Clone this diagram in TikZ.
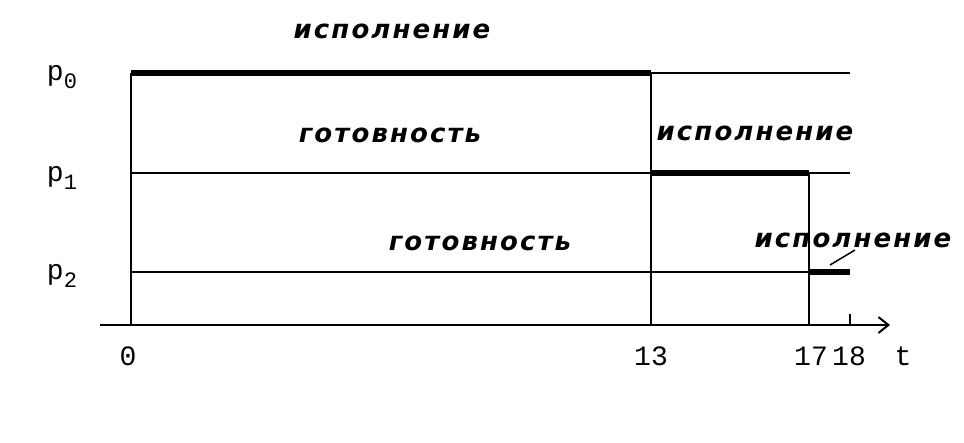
\documentclass[tikz,border=0pt]{standalone}
\usepackage{fontspec}
\newfontfamily\stfont{DejaVu Sans}[LetterSpace=8]
\newfontfamily\lbfont{Liberation Mono}
\usetikzlibrary{arrows.meta}
\begin{document}
\begin{tikzpicture}[x=1pt,y=-1pt,
  thinln/.style={line width=2pt},
  thickln/.style={line width=6pt},
  state/.style={font=\stfont\bfseries\itshape\fontsize{26}{26}\selectfont, inner sep=0pt},
  plab/.style={font=\lbfont\fontsize{28}{28}\selectfont, inner sep=0pt},
  tlab/.style={font=\lbfont\fontsize{28}{28}\selectfont, inner sep=0pt}]
\useasboundingbox[fill=white] (0,0) rectangle (964,442);
% coordinates
\coordinate (a0) at (131,73);
\coordinate (a13) at (651,73);
\coordinate (e0) at (850,73);
\coordinate (b0) at (131,173);
\coordinate (b13) at (651,173);
\coordinate (b17) at (809,173);
\coordinate (e1) at (850,173);
\coordinate (c0) at (131,272);
\coordinate (c17) at (809,272);
\coordinate (e2) at (850,272);
\coordinate (ax0) at (100,325);
\coordinate (axE) at (890,325);
\coordinate (t0) at (131,325);
\coordinate (t13) at (651,325);
\coordinate (t17) at (809,325);
\coordinate (t18) at (850,325);
\coordinate (t18u) at (850,314);
% lines
\draw[thickln] (a0) -- (a13);
\draw[thinln] (a13) -- (e0);
\draw[thinln] (b0) -- (b13);
\draw[thickln] (b13) -- (b17);
\draw[thinln] (b17) -- (e1);
\draw[thinln] (c0) -- (c17);
\draw[thickln] (c17) -- (e2);
\draw[thinln] (a0) -- (t0);
\draw[thinln] (a13) -- (t13);
\draw[thinln] (b17) -- (t17);
\draw[thinln] (t18u) -- (t18);
\draw[line width=2.5pt,-{Straight Barb[length=10pt,width=16pt,line width=2pt]}] (ax0) -- (axE);
% labels
\node[plab] (p0) at (62,77) {p\raisebox{-8pt}{\fontsize{22}{22}\selectfont 0}};
\node[plab] (p1) at (62,178) {p\raisebox{-8pt}{\fontsize{22}{22}\selectfont 1}};
\node[plab] (p2) at (62,276) {p\raisebox{-8pt}{\fontsize{22}{22}\selectfont 2}};
\node[tlab] (l0) at (128,356) {0};
\node[tlab] (l13) at (651,356) {13};
\node[tlab] (l17) at (811,356) {17};
\node[tlab] (l18) at (849,356) {18};
\node[tlab] (lt) at (903,356) {t};
\node[state] (s1) at (392,31) {исполнение};
\node[state] (s2) at (390,135) {готовность};
\node[state] (s3) at (755,133) {исполнение};
\node[state] (s4) at (480,243) {готовность};
\node[state] (s5) at (853,240) {исполнение};
\draw[line width=1.5pt] (830,265) -- (855,250);
\end{tikzpicture}
\end{document}
